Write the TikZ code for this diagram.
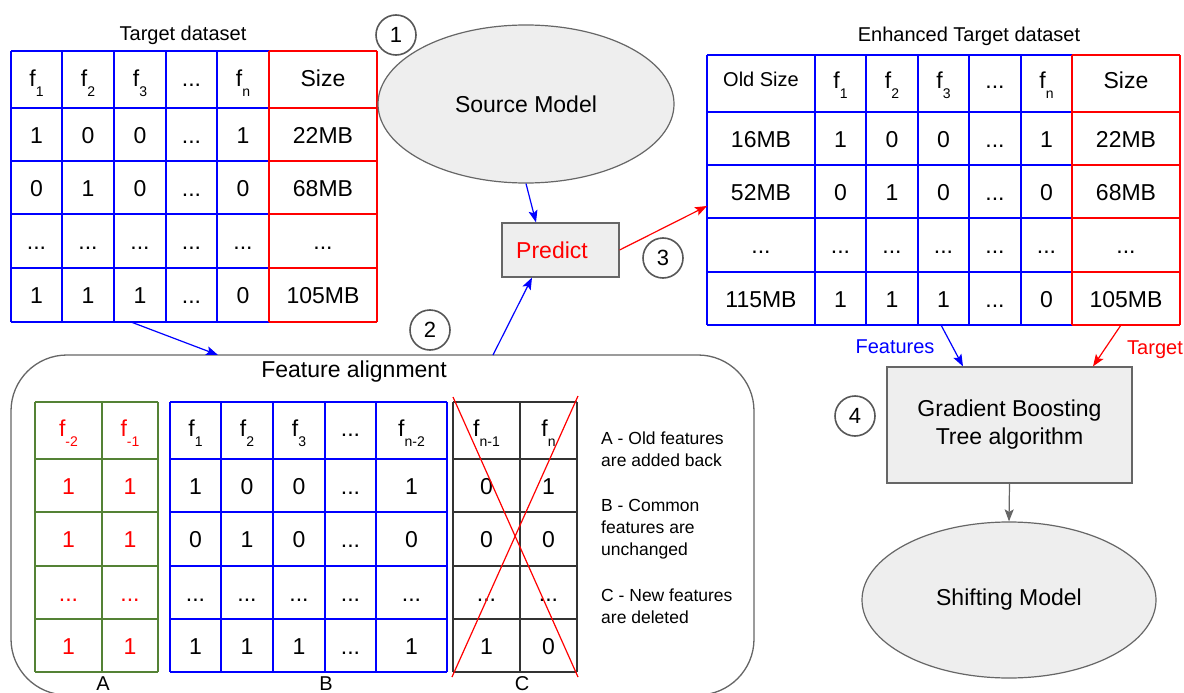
\documentclass[tikz,border=0pt]{standalone}
\usepackage{fontspec}
\setmainfont{Liberation Sans}
\usetikzlibrary{arrows.meta,shapes.geometric,calc}
\definecolor{myblue}{RGB}{0,0,255}
\definecolor{myred}{RGB}{255,0,0}
\definecolor{mygreen}{RGB}{84,130,53}
\definecolor{mygray}{RGB}{102,102,102}
\definecolor{myfill}{RGB}{238,238,238}
\definecolor{cgray}{RGB}{51,51,51}
\newcommand\fs[1]{f\raisebox{-10pt}{\fontsize{14}{14}\selectfont #1}}
\newcommand\dd{...}
\newcommand\oldsz{\raisebox{2pt}{\fontsize{20}{24}\selectfont Old Size}}
\newcommand\filltable[4]{%
  \foreach \row [count=\r from 0] in {#4}{%
    \foreach \txt [count=\c from 0] in \row {%
      \pgfmathsetmacro\xx{#2[\c]}%
      \pgfmathsetmacro\yy{#3[\r]}%
      \node[cell] (#1-\r-\c) at (\xx,\yy) {\txt};
    }%
  }%
}
\begin{document}
\begin{tikzpicture}[x=1pt,y=-1pt,
  cell/.style={anchor=base,inner sep=0pt,font=\fontsize{23}{27}\selectfont},
  ttl/.style={anchor=base,inner sep=0pt,font=\fontsize{20}{24}\selectfont},
  num/.style={circle,draw=mygray!85!black,fill=white,line width=1.6pt,minimum size=40pt,inner sep=0pt,font=\fontsize{22}{26}\selectfont},
  arr/.style={line width=1.2pt,-{Stealth[length=12pt,width=9pt,inset=2.5pt]}},
  gridl/.style={line width=1.3pt},
  desc/.style={anchor=base west,inner sep=0pt,font=\fontsize{17.5}{21}\selectfont},
  shp/.style={draw=mygray,fill=myfill,line width=1.2pt,inner sep=0pt}]
\useasboundingbox (0,0) rectangle (1184,693);
\fill[white] (0,0) rectangle (1184,693);

% ---------- Target dataset ----------
\node[ttl] (ttgt) at (183,41) {Target dataset};
\foreach \x in {11,62,114,166,217} \draw[gridl,myblue] (\x,51) -- (\x,322);
\foreach \y in {51,108,161,214,268,322} \draw[gridl,myblue] (11,\y) -- (269,\y);
\foreach \y in {51,108,161,214,268,322} \draw[gridl,myred] (269,\y) -- (377,\y);
\foreach \x in {269,377} \draw[gridl,myred] (\x,51) -- (\x,322);
\filltable{t}{{36.5,88,140,191.5,243,323}}{{86,143,196,249.5,303.5}}{{\fs{1},\fs{2},\fs{3},\dd,\fs{n},Size},{1,0,0,\dd,1,22MB},{0,1,0,\dd,0,68MB},{\dd,\dd,\dd,\dd,\dd,\dd},{1,1,1,\dd,0,105MB}}
\coordinate (tgtb) at (131,322);

% ---------- Enhanced Target dataset ----------
\node[ttl] (tenh) at (969,41.5) {Enhanced Target dataset};
\foreach \x in {707,815,866,918,969,1021} \draw[gridl,myblue] (\x,55) -- (\x,325);
\foreach \y in {55,112,165,218,272,325} \draw[gridl,myblue] (707,\y) -- (1072,\y);
\foreach \y in {55,112,165,218,272,325} \draw[gridl,myred] (1072,\y) -- (1180,\y);
\foreach \x in {1072,1180} \draw[gridl,myred] (\x,55) -- (\x,325);
\filltable{e}{{761,840.5,892,943.5,995,1046.5,1126}}{{88.5,147,200,253.5,307}}{{\oldsz,\fs{1},\fs{2},\fs{3},\dd,\fs{n},Size},{16MB,1,0,0,\dd,1,22MB},{52MB,0,1,0,\dd,0,68MB},{\dd,\dd,\dd,\dd,\dd,\dd,\dd},{115MB,1,1,1,\dd,0,105MB}}
\coordinate (enhIn) at (707,206);
\coordinate (enhF) at (941,325);
\coordinate (enhT) at (1121,325);

% ---------- Source model / Predict ----------
\node[shp,ellipse,minimum width=296pt,minimum height=158pt,font=\fontsize{23}{27}\selectfont] (src) at (526,104) {Source Model};
\node[shp,rectangle,minimum width=117pt,minimum height=54pt] (pred) at (560.5,250) {};
\node[inner sep=0pt,text=myred,font=\fontsize{23}{27}\selectfont] (predt) at (552,250.5) {Predict};
\node[num] (n1) at (396,35) {1};
\node[num] (n2) at (430,330) {2};
\node[num] (n3) at (663,258) {3};

% ---------- Feature alignment ----------
\draw[mygray,line width=1.3pt,rounded corners=56pt] (11,355) rectangle (754,695);
\node[anchor=base,inner sep=0pt,font=\fontsize{23}{27}\selectfont] (fat) at (354,377) {Feature alignment};
\coordinate (faIn) at (218,355);
\coordinate (faOut) at (493,355);

% table A
\foreach \x in {35,102,158} \draw[gridl,mygreen] (\x,402) -- (\x,672);
\foreach \y in {402,459,512,566,619,672} \draw[gridl,mygreen] (35,\y) -- (158,\y);
\begin{scope}[every node/.append style={text=myred}]
\filltable{a}{{68.5,130}}{{436.5,494,547.5,601,654}}{{\fs{-2},\fs{-1}},{1,1},{1,1},{\dd,\dd},{1,1}}
\end{scope}
% table B
\foreach \x in {170,221,273,325,376,447} \draw[gridl,myblue] (\x,402) -- (\x,672);
\foreach \y in {402,459,512,566,619,672} \draw[gridl,myblue] (170,\y) -- (447,\y);
\filltable{b}{{195.5,247,299,350.5,411.5}}{{436.5,494,547.5,601,654}}{{\fs{1},\fs{2},\fs{3},\dd,\fs{n-2}},{1,0,0,\dd,1},{0,1,0,\dd,0},{\dd,\dd,\dd,\dd,\dd},{1,1,1,\dd,1}}
% table C
\foreach \x in {453,520,577} \draw[gridl,cgray] (\x,402) -- (\x,672);
\foreach \y in {402,459,512,566,619,672} \draw[gridl,cgray] (453,\y) -- (577,\y);
\filltable{c}{{486.5,548.5}}{{436.5,494,547.5,601,654}}{{\fs{n-1},\fs{n}},{0,1},{0,0},{\dd,\dd},{1,0}}
\draw[myred,line width=1.2pt] (453,397) -- (578,677);
\draw[myred,line width=1.2pt] (578,396) -- (452,677);

\node[ttl] (la) at (103,690) {A};
\node[ttl] (lb) at (326,690) {B};
\node[ttl] (lc) at (522,690) {C};

\node[desc] (da1) at (601,444) {A - Old features};
\node[desc] (da2) at (601,466) {are added back};
\node[desc] (db1) at (601,511) {B - Common};
\node[desc] (db2) at (601,533) {features are};
\node[desc] (db3) at (601,555.5) {unchanged};
\node[desc] (dc1) at (601,601) {C - New features};
\node[desc] (dc2) at (601,623) {are deleted};

% ---------- Gradient boosting / Shifting ----------
\node[shp,rectangle,minimum width=245pt,minimum height=116pt,align=center,font=\fontsize{23}{28}\selectfont] (gbt) at (1009.5,425) {Gradient Boosting\\Tree algorithm};
\node[shp,ellipse,minimum width=294pt,minimum height=156pt,font=\fontsize{23}{27}\selectfont] (shift) at (1009,600) {Shifting Model};
\node[num] (n4) at (855,416) {4};
\node[ttl,text=myblue] (featl) at (895,353) {Features};
\node[anchor=base west,inner sep=0pt,text=myred,font=\fontsize{20}{24}\selectfont] (tgtl) at (1127,354) {Target};

% ---------- connectors ----------
\draw[arr,myblue] (src.south) -- ($(pred.north)+(-24.5,0)$);
\draw[arr,myblue] (faOut) -- ($(pred.south)+(-28.5,0)$);
\draw[arr,myred] (pred.east) -- (enhIn);
\draw[arr,myblue] (tgtb) -- (faIn);
\draw[arr,myblue] (enhF) -- ($(gbt.north)+(-46.5,0)$);
\draw[arr,myred] (enhT) -- ($(gbt.north)+(83.5,0)$);
\draw[arr,mygray] (gbt.south) -- (shift.north);
\end{tikzpicture}
\end{document}
